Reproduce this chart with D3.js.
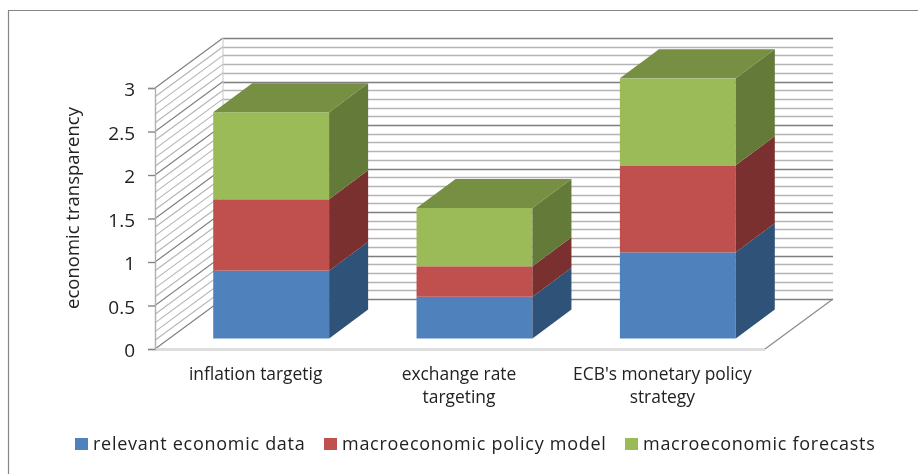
<!DOCTYPE html>
<html>
<head>
<meta charset="utf-8">
<script src="https://d3js.org/d3.v7.min.js"></script>
<style>
html,body {margin:0; padding:0; background:#fff; overflow:hidden;}
svg {display:block;}
text {font-family:'Open Sans',Lato,sans-serif; fill:#222;}
.soft {filter:blur(.55px);}
</style>
</head>
<body>
<svg id="chart" width="918" height="474"></svg>
<script>
var categories=[['inflation targetig'],['exchange rate','targeting'],["ECB's monetary policy",'strategy']];
var seriesNames=['relevant economic data','macroeconomic policy model','macroeconomic forecasts'];
var relevantData=[0.78,0.48,0.99];
var policyModel=[0.82,0.35,1.0];
var forecasts=[1.0,0.67,1.0];
var yTicks=[0,0.5,1,1.5,2,2.5,3];
var gridValues=d3.range(0,31).map(d=>d/10);
var frontColors=['#4f81bd','#c0504d','#9bbb59'];
var sideColors=['#2f5279','#7a302e','#647a38'];
var topColor='#778f43';

// 3d box: wall offset and bar depth
var wallDx=68,wallDy=-50,barDx=39,barDy=-29;
var left=155,right=765,bottom=349,top3=88;

var svg=d3.select('#chart');
var yScale=d3.scaleLinear().domain([0,3]).range([bottom,top3]);
var xScale=d3.scaleBand().domain(d3.range(categories.length))
    .range([left,right]).paddingInner(.43).paddingOuter(.215);

// chart frame, open on the right and at the bottom
svg.append('path').attr('d','M8.5,474V10.5H918')
   .attr('fill','none').attr('stroke','#868686').attr('stroke-width',1.2);

var soft=svg.append('g').attr('class','soft');

function gridColor(d){ return Math.round(d*10)%5==0 ? '#7e7e7e' : '#b4b4b4'; }

// back wall
soft.append('g').selectAll('line').data(gridValues).enter().append('line')
    .attr('x1',left+wallDx).attr('x2',right+wallDx)
    .attr('y1',d=>Math.round(yScale(d)+wallDy)+.5)
    .attr('y2',d=>Math.round(yScale(d)+wallDy)+.5)
    .attr('stroke',gridColor).attr('stroke-width',1.6);
// side wall
soft.append('g').selectAll('line').data(gridValues).enter().append('line')
    .attr('x1',left).attr('x2',left+wallDx)
    .attr('y1',d=>yScale(d)).attr('y2',d=>yScale(d)+wallDy)
    .attr('stroke',gridColor).attr('stroke-width',1.1);
soft.append('line').attr('x1',left+wallDx).attr('x2',left+wallDx)
    .attr('y1',yScale(3)+wallDy).attr('y2',yScale(0)+wallDy)
    .attr('stroke','#c8c8c8');

// floor edges
soft.append('line').attr('x1',left).attr('x2',right)
    .attr('y1',bottom+.5).attr('y2',bottom+.5)
    .attr('stroke','#dedede').attr('stroke-width',3);
soft.append('line').attr('x1',right).attr('x2',right+wallDx)
    .attr('y1',bottom).attr('y2',bottom+wallDy)
    .attr('stroke','#8a8a8a').attr('stroke-width',1.2);

// value axis
var axis=soft.append('g').attr('transform','translate('+left+',0)')
    .call(d3.axisLeft(yScale).tickValues(yTicks).tickSize(7).tickPadding(13).tickFormat(d=>d));
axis.select('.domain').attr('stroke','#b0b0b0').attr('stroke-width',1.4);
axis.selectAll('.tick line').attr('stroke','#868686').attr('stroke-width',1.4);
axis.selectAll('.tick text').attr('font-size',19).attr('font-family','Open Sans').attr('fill','#222').attr('dy','.42em');

// stacked boxes
var rows=categories.map((c,i)=>[relevantData[i],policyModel[i],forecasts[i]]);
var stack=d3.stack().keys([0,1,2])(rows);
var baseY=bottom+(wallDy-barDy)/2;
var baseX=(wallDx-barDx)/2;
var h=d=>yScale(d)-bottom+baseY;
var w=xScale.bandwidth();

stack.forEach(function(layer,s){
  var g=soft.append('g');
  g.selectAll('rect').data(layer).enter().append('rect')
    .attr('x',(d,i)=>xScale(i)+baseX).attr('width',w)
    .attr('y',d=>h(d[1])).attr('height',d=>h(d[0])-h(d[1]))
    .attr('fill',frontColors[s]);
  g.selectAll('path.side').data(layer).enter().append('path').attr('class','side')
    .attr('d',function(d,i){
      var x=xScale(i)+baseX+w;
      return d3.line()([[x,h(d[0])],[x+barDx,h(d[0])+barDy],[x+barDx,h(d[1])+barDy],[x,h(d[1])]])+'Z';
    })
    .attr('fill',sideColors[s]);
  if (s==stack.length-1) {
    g.selectAll('path.top').data(layer).enter().append('path').attr('class','top')
      .attr('d',function(d,i){
        var x=xScale(i)+baseX,y=h(d[1]);
        return d3.line()([[x,y],[x+barDx,y+barDy],[x+w+barDx,y+barDy],[x+w,y]])+'Z';
      })
      .attr('fill',topColor);
  }
});

// category labels
var labels=soft.append('g').selectAll('text').data(categories).enter().append('text')
    .attr('text-anchor','middle').attr('font-size',17.4);
labels.each(function(lines,i){
  d3.select(this).selectAll('tspan').data(lines).enter().append('tspan')
    .attr('x',xScale(i)+w/2-1).attr('y',(d,k)=>380+k*23).text(d=>d);
});

// axis title
soft.append('text').attr('transform','translate(79,208) rotate(-90)')
    .attr('text-anchor','middle').attr('font-size',18.5)
    .text('economic transparency');

// legend
var legendX=[75,324,625];
var legend=soft.append('g').selectAll('g').data(seriesNames).enter().append('g')
    .attr('transform',(d,i)=>'translate('+legendX[i]+',438)');
legend.append('rect').attr('width',13).attr('height',12).attr('fill',(d,i)=>frontColors[i]);
legend.append('text').attr('x',18).attr('y',12).attr('font-size',18).attr('letter-spacing',.72).text(d=>d);
</script>
</body>
</html>
